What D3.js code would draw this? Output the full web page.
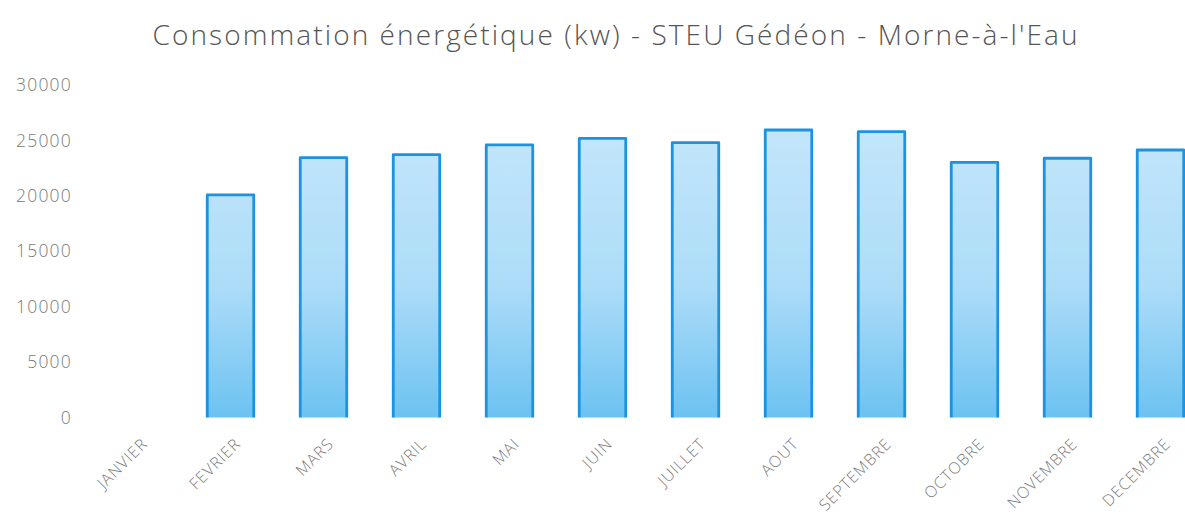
<!DOCTYPE html>
<html>
<head>
<meta charset="utf-8">
<script src="https://cdn.jsdelivr.net/npm/d3@7"></script>
<style>
  html, body { margin: 0; padding: 0; background: #fff; }
  svg { display: block; }
  text { font-family: "Open Sans", "Liberation Sans", sans-serif; }
</style>
</head>
<body>
<svg id="chart" width="1185" height="519"></svg>
<script>
// Monthly energy consumption (kW) of the Gédéon treatment plant
const months = ["JANVIER", "FEVRIER", "MARS", "AVRIL", "MAI", "JUIN",
                "JUILLET", "AOUT", "SEPTEMBRE", "OCTOBRE", "NOVEMBRE", "DECEMBRE"];
const consumption = [null, 20080, 23440, 23710, 24590, 25190,
                     24795, 25940, 25790, 23025, 23390, 24135];
const yTicks = [0, 5000, 10000, 15000, 20000, 25000, 30000];
const title = "Consommation énergétique (kw) - STEU Gédéon - Morne-à-l'Eau";

const svg = d3.select("#chart");

const x = d3.scaleBand()
  .domain(months)
  .range([91, 1207])
  .paddingInner(0.5)
  .paddingOuter(0.25);

const y = d3.scaleLinear()
  .domain([0, 30000])
  .range([417.5, 85]);

// Bar fill: pale at the top, deeper blue toward the base
const defs = svg.append("defs");
const grad = defs.append("linearGradient")
  .attr("id", "barFill")
  .attr("gradientUnits", "userSpaceOnUse")
  .attr("x1", 0).attr("x2", 0)
  .attr("y1", y(26000)).attr("y2", y(0));
grad.append("stop").attr("offset", "0%").attr("stop-color", "#c3e6fb");
grad.append("stop").attr("offset", "55%").attr("stop-color", "#acdcf8");
grad.append("stop").attr("offset", "100%").attr("stop-color", "#6cc2f1");

// Title
svg.append("text")
  .attr("x", 615)
  .attr("y", 45)
  .attr("text-anchor", "middle")
  .attr("fill", "#555555")
  .attr("font-size", 28)
  .attr("font-weight", 300)
  .attr("textLength", 925)
  .attr("lengthAdjust", "spacing")
  .text(title);

// Y axis labels (no axis line)
const yAxis = d3.axisLeft(y).tickValues(yTicks).tickSize(0).tickPadding(0)
  .tickFormat(d3.format("d"));
const gy = svg.append("g").attr("transform", "translate(72,0)").call(yAxis);
gy.select(".domain").remove();
gy.selectAll("text")
  .attr("fill", "#7a7a7a")
  .attr("font-size", 17.5)
  .attr("font-weight", 300)
  .attr("letter-spacing", 1.2)
  .style("font-family", "'Open Sans', sans-serif");

// Bars
const data = months.map((m, i) => ({ m, v: consumption[i] })).filter(d => d.v != null);
const bars = svg.append("g");
bars.selectAll("rect")
  .data(data)
  .join("rect")
  .attr("x", d => x(d.m))
  .attr("y", d => y(d.v))
  .attr("width", x.bandwidth())
  .attr("height", d => y(0) - y(d.v))
  .attr("fill", "url(#barFill)");

// Outline on top and sides only
bars.selectAll("path")
  .data(data)
  .join("path")
  .attr("d", d => {
    const x0 = x(d.m), x1 = x0 + x.bandwidth(), t = y(d.v), b = y(0);
    return `M${x0},${b} L${x0},${t} L${x1},${t} L${x1},${b}`;
  })
  .attr("fill", "none")
  .attr("stroke", "#1b93e3")
  .attr("stroke-width", 2.8)
  .attr("stroke-linejoin", "round");

// X axis labels, rotated
const xAxis = d3.axisBottom(x).tickSize(0).tickPadding(0);
const gx = svg.append("g").call(xAxis);
gx.select(".domain").remove();
gx.selectAll(".tick text")
  .attr("y", 0)
  .attr("dy", 0)
  .attr("text-anchor", "end")
  .attr("transform", "translate(11,445) rotate(-45)")
  .attr("fill", "#7a7a7a")
  .attr("font-size", 16)
  .attr("font-weight", 300)
  .attr("letter-spacing", 0.9)
  .style("font-family", "'Open Sans', sans-serif");
</script>
</body>
</html>
